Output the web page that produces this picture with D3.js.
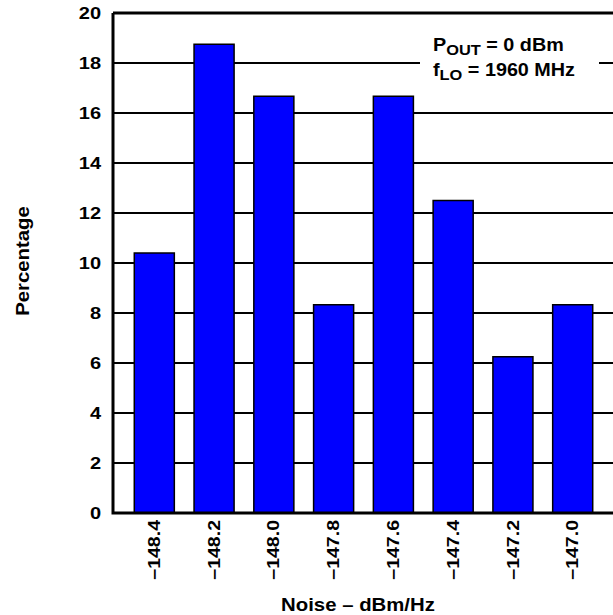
<!DOCTYPE html>
<html>
<head>
<meta charset="utf-8">
<script src="https://cdn.jsdelivr.net/npm/d3@7"></script>
<style>
  body { margin: 0; background: #fff; }
  svg text { font-family: "Liberation Sans", Arial, sans-serif; font-weight: bold; fill: #000; }
</style>
</head>
<body>
<svg id="chart" width="613" height="615"></svg>
<script>
// noise bins (dBm/Hz) and share of units in each bin (%)
const noiseBins = ["\u2212148.4", "\u2212148.2", "\u2212148.0", "\u2212147.8", "\u2212147.6", "\u2212147.4", "\u2212147.2", "\u2212147.0"];
const percentages = [10.4, 18.75, 16.67, 8.33, 16.67, 12.5, 6.25, 8.33];
const yTicks = [0, 2, 4, 6, 8, 10, 12, 14, 16, 18, 20];

const margin = { top: 13, left: 113 };
const plotW = 501, plotH = 500;

// the original lettering is a bit wider than Liberation Sans, so stretch it
function stretch(sel, k) {
  sel.attr("textLength", function() { return this.getComputedTextLength() * k; })
     .attr("lengthAdjust", "spacingAndGlyphs");
}

const svg = d3.select("#chart");
const g = svg.append("g").attr("transform", `translate(${margin.left},${margin.top})`);

const x = d3.scaleBand()
    .domain(noiseBins)
    .range([0, plotW])
    .paddingInner(0.33)
    .paddingOuter(0.356);

const y = d3.scaleLinear()
    .domain([0, 20])
    .range([plotH, 0]);

// horizontal grid
g.append("g")
    .selectAll("line")
    .data(yTicks.filter(d => d > 0 && d < 20))
    .join("line")
    .attr("x1", 0)
    .attr("x2", plotW)
    .attr("y1", d => y(d))
    .attr("y2", d => y(d))
    .attr("stroke", "#000")
    .attr("stroke-width", 2);

// bars
g.selectAll(".bar")
    .data(percentages)
    .join("rect")
    .attr("class", "bar")
    .attr("x", (d, i) => x(noiseBins[i]))
    .attr("y", d => y(d))
    .attr("width", x.bandwidth())
    .attr("height", d => plotH - y(d))
    .attr("fill", "#0000ff")
    .attr("stroke", "#000")
    .attr("stroke-width", 1.5);

// legend box (white, hides grid)
const leg = g.append("g").attr("transform", "translate(307,17)");
leg.append("rect")
    .attr("width", 179)
    .attr("height", 64)
    .attr("fill", "#fff");
const t1 = leg.append("text").attr("x", 13).attr("y", 21).style("font-size", "17.5px");
t1.append("tspan").text("P");
t1.append("tspan").attr("dy", 4).style("font-size", "14.5px").text("OUT");
t1.append("tspan").attr("dy", -4).text(" = 0 dBm");
const t2 = leg.append("text").attr("x", 13).attr("y", 46).style("font-size", "17.5px");
t2.append("tspan").text("f");
t2.append("tspan").attr("dy", 4).style("font-size", "14.5px").text("LO");
t2.append("tspan").attr("dy", -4).text(" = 1960 MHz");
stretch(leg.selectAll("text"), 1.13);

// plot frame
g.append("path")
    .attr("d", `M0,0H${plotW + 5}M0,0V${plotH}H${plotW + 5}`)
    .attr("fill", "none")
    .attr("stroke", "#000")
    .attr("stroke-width", 3);

// y axis labels
const yAxis = d3.axisLeft(y).tickValues(yTicks).tickSize(0).tickPadding(12);
g.append("g").call(yAxis)
    .call(s => s.select(".domain").remove())
    .selectAll("text")
    .style("font-size", "16px")
    .attr("font-family", null)
    .call(stretch, 1.25);

// x axis labels, rotated
const xAxis = d3.axisBottom(x).tickSize(0).tickPadding(0);
g.append("g")
    .attr("transform", `translate(0,${plotH})`)
    .call(xAxis)
    .call(s => s.select(".domain").remove())
    .selectAll("text")
    .style("font-size", "16px")
    .attr("font-family", null)
    .attr("transform", "rotate(-90)")
    .attr("text-anchor", "end")
    .attr("x", -7)
    .attr("y", 0)
    .attr("dy", "0.35em")
    .call(stretch, 1.22);

// axis titles
svg.append("text")
    .attr("x", 358)
    .attr("y", 611)
    .attr("text-anchor", "middle")
    .style("font-size", "18.5px")
    .text("Noise \u2013 dBm/Hz")
    .call(stretch, 1.1);

svg.append("text")
    .attr("transform", "translate(29,261) rotate(-90)")
    .attr("text-anchor", "middle")
    .style("font-size", "19px")
    .text("Percentage")
    .call(stretch, 1.07);
</script>
</body>
</html>
